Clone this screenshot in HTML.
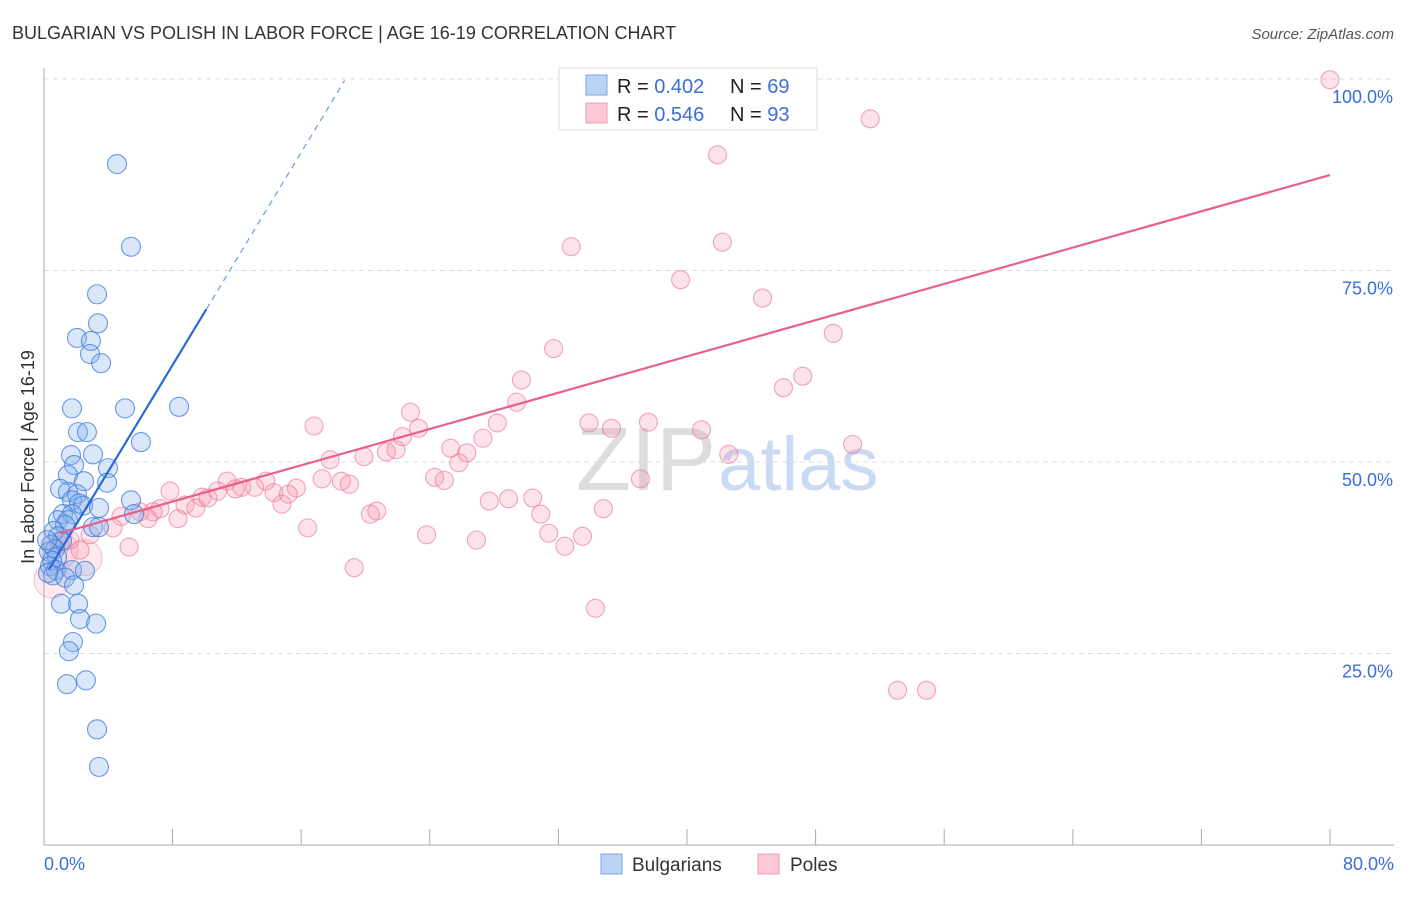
<!DOCTYPE html>
<html><head><meta charset="utf-8"><style>
body{margin:0;background:#fff;font-family:"Liberation Sans",sans-serif;}
svg text{font-family:"Liberation Sans",sans-serif;}
</style></head><body>
<svg id="chart" width="1406" height="892">
<text x="12" y="39" font-size="18" fill="#333">BULGARIAN VS POLISH IN LABOR FORCE | AGE 16-19 CORRELATION CHART</text>
<text x="1394" y="39" font-size="15" fill="#555" text-anchor="end" font-style="italic">Source: ZipAtlas.com</text>
<text x="716" y="490" font-size="90" fill="#ddd" text-anchor="end" font-family="Liberation Serif">ZIP</text>
<text x="718" y="490" font-size="76" fill="#c9daf2">atlas</text>
<g id="grid"></g><g id="axes"></g><g id="pts"></g><g id="lines"></g>
<text transform="translate(34,457) rotate(-90)" font-size="18" fill="#333" text-anchor="middle">In Labor Force | Age 16-19</text>
<text x="44" y="870" font-size="18" fill="#3a6fd8">0.0%</text>
<text x="1394" y="870" font-size="18" fill="#3a6fd8" text-anchor="end">80.0%</text>
<g>
<rect x="559" y="68" width="258" height="62" fill="#fff" stroke="#ddd"/>
<rect x="586" y="75" width="21" height="20" fill="#b9d3f5" stroke="#7ba7e6"/>
<rect x="586" y="103" width="21" height="20" fill="#fcc8d6" stroke="#f09ab2"/>
<text x="617" y="93" font-size="20" fill="#222">R = <tspan fill="#3a6fd8">0.402</tspan></text>
<text x="730" y="93" font-size="20" fill="#222">N = <tspan fill="#3a6fd8">69</tspan></text>
<text x="617" y="121" font-size="20" fill="#222">R = <tspan fill="#3a6fd8">0.546</tspan></text>
<text x="730" y="121" font-size="20" fill="#222">N = <tspan fill="#3a6fd8">93</tspan></text>
</g>
<g>
<rect x="601" y="854" width="21" height="20" fill="#b9d3f5" stroke="#7ba7e6"/>
<text x="632" y="871" font-size="19" fill="#333">Bulgarians</text>
<rect x="758" y="854" width="21" height="20" fill="#fcc8d6" stroke="#f09ab2"/>
<text x="790" y="871" font-size="19" fill="#333">Poles</text>
</g>
</svg>
<script>
const yTicks=[25,50,75,100];
const yTickLabels=["25.0%","50.0%","75.0%","100.0%"];
const xTicks=[8,16,24,32,40,48,56,64,72,80];
const bulgX=[4.54,5.41,3.30,3.36,2.05,2.92,2.86,3.55,1.74,5.04,8.40,2.12,2.67,6.03,1.68,3.05,1.87,3.98,1.49,2.49,3.92,1.00,1.49,2.05,5.41,1.74,2.18,2.43,3.42,1.18,1.74,5.60,0.87,1.49,1.31,3.05,3.42,0.62,0.87,1.12,0.44,0.68,0.31,0.81,0.50,0.37,0.75,1.74,2.55,0.56,1.31,1.87,1.06,2.12,2.24,3.24,1.80,1.55,2.61,1.43,3.30,3.42,0.19,0.25];
const bulgY=[88.9,78.1,71.9,68.1,66.2,65.8,64.1,62.9,57.0,57.0,57.2,53.9,53.9,52.6,50.9,51.0,49.6,49.2,48.3,47.5,47.3,46.5,46.1,45.8,45.0,45.0,44.6,44.3,44.0,43.2,43.2,43.2,42.4,42.4,41.8,41.5,41.5,41.0,40.3,39.7,39.2,38.6,38.3,37.6,37.1,36.4,35.9,35.9,35.8,35.2,34.9,33.9,31.5,31.5,29.5,28.9,26.5,25.3,21.5,21.0,15.1,10.2,39.8,35.5];
const polesX=[80,36.3,36.8,38.3,51.4,41.9,32.8,42.2,39.6,44.7,49.1,31.7,29.7,47.2,46.0,29.4,22.8,16.8,33.9,35.3,37.6,40.9,28.2,23.3,22.3,27.3,50.3,25.3,26.3,21.3,21.9,19.9,17.8,42.6,25.8,24.3,24.9,37.1,17.3,18.5,19.0,11.4,13.8,12.3,11.9,13.1,15.7,7.84,10.8,14.3,15.2,9.83,10.2,8.77,9.45,14.8,27.7,28.9,30.4,34.8,7.22,6.78,20.7,20.3,30.9,5.97,4.79,8.34,6.47,16.4,4.29,23.8,31.4,33.5,26.9,32.4,5.29,19.3,34.3,53.1,54.9,1.62,1.0,2.24,2.86];
const polesY=[99.9,99.9,99.9,99.9,94.8,90.1,78.1,78.7,73.8,71.4,66.8,64.8,60.7,61.2,59.7,57.8,56.5,54.7,55.1,54.4,55.2,54.2,55.1,54.4,53.3,53.1,52.3,51.8,51.2,51.3,51.6,50.7,50.3,51.0,49.9,48.0,47.6,47.8,47.8,47.5,47.1,47.5,47.5,46.7,46.5,46.7,46.6,46.2,46.2,46.0,45.8,45.4,45.3,44.4,44.0,44.5,44.9,45.2,45.3,43.9,43.9,43.5,43.6,43.2,43.2,43.5,42.9,42.6,42.6,41.4,41.4,40.5,40.7,40.3,39.8,39.0,38.9,36.2,30.9,20.2,20.2,39.8,39.2,38.5,40.5];
const polesBigX=[0.5,1.0,2.5];
const polesBigY=[34.6,38.5,37.5];
const bulgTrend=[34.9,3.47];
const polesTrend=[40.1,0.592];
const NS="http://www.w3.org/2000/svg";
const X=v=>44+v*16.075, Y=v=>845-v*7.66;
function mk(tag,at,parent){const e=document.createElementNS(NS,tag);for(const k in at)e.setAttribute(k,at[k]);document.getElementById(parent).appendChild(e);return e;}
yTicks.forEach((t,i)=>{
 const l=mk('line',{x1:44,x2:1394,y1:Y(t),y2:Y(t),stroke:'#ddd','stroke-dasharray':'5,4'},'grid');
 
 
 const tx=mk('text',{x:1393,y:Y(t)+24,'font-size':18,fill:'#3a6fd8','text-anchor':'end'},'grid');
 tx.textContent=yTickLabels[i];
 
 
});
let a=mk('line',{x1:44,x2:44,y1:68,y2:845,stroke:'#aaa'},'axes');


a=mk('line',{x1:44,x2:1394,y1:845,y2:845,stroke:'#aaa'},'axes');


xTicks.forEach(t=>{const l=mk('line',{x1:X(t),x2:X(t),y1:829,y2:845,stroke:'#aaa'},'axes');
 
 });
function pt(x,y,r,fill,stroke,name){const c=mk('circle',{cx:X(x),cy:Y(y),r:r,fill:fill,stroke:stroke,'stroke-width':1.1},'pts');
 
 }
polesBigX.forEach((x,i)=>pt(x,polesBigY[i],18,'rgba(245,150,175,0.2)','rgba(235,120,150,0.4)','poles-point'));
polesX.forEach((x,i)=>pt(x,polesY[i],9,'rgba(245,150,175,0.28)','rgba(235,120,150,0.65)','poles-point'));
bulgX.forEach((x,i)=>pt(x,bulgY[i],9.5,'rgba(130,175,235,0.3)','rgba(60,120,220,0.75)','bulgarians-point'));
let t=mk('line',{x1:X(0.3),y1:Y(bulgTrend[0]+bulgTrend[1]*0.3),x2:X(10.1),y2:Y(bulgTrend[0]+bulgTrend[1]*10.1),stroke:'#2a6ad8','stroke-width':2.2},'lines');


t=mk('line',{x1:X(10.1),y1:Y(bulgTrend[0]+bulgTrend[1]*10.1),x2:X(18.7),y2:Y(bulgTrend[0]+bulgTrend[1]*18.7),stroke:'#6a9ae0','stroke-width':1.2,'stroke-dasharray':'6,5'},'lines');


t=mk('line',{x1:X(1),y1:Y(polesTrend[0]+polesTrend[1]*1),x2:X(80),y2:Y(polesTrend[0]+polesTrend[1]*80),stroke:'#e8608c','stroke-width':2.2},'lines');


</script>
</body></html>
